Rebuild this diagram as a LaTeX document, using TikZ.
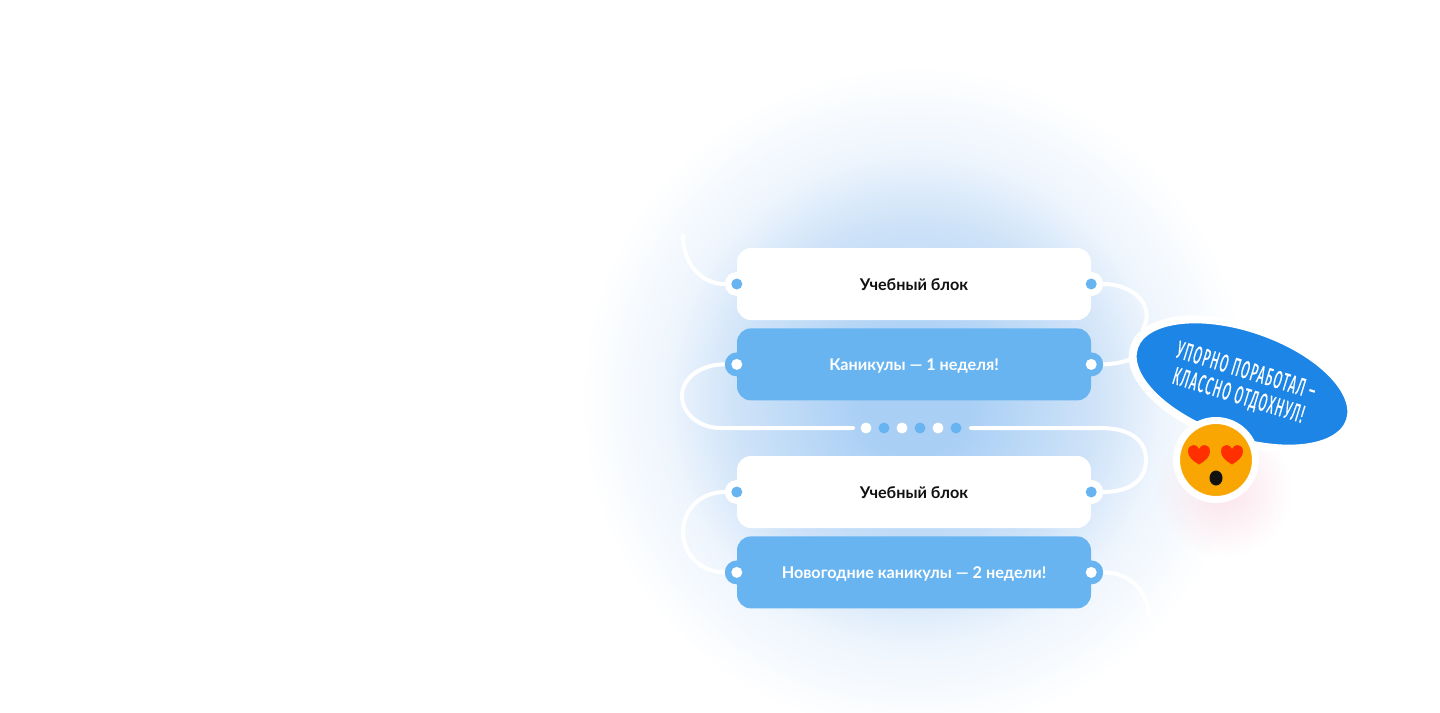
\documentclass[tikz,border=0pt]{standalone}
\usepackage{fontspec}
\setmainfont{Lato}
\newfontfamily\bubblefont[FakeStretch=0.48,LetterSpace=5.5,FakeBold=0.5]{Fira Sans}
\usetikzlibrary{positioning, shapes.geometric, backgrounds, fadings}
\definecolor{skyblue}{HTML}{68B4F0}
\definecolor{deepblue}{HTML}{1C85E5}
\definecolor{inkblack}{HTML}{111111}
\definecolor{faceorange}{HTML}{F9A602}
\definecolor{heartred}{HTML}{FF2F00}
\definecolor{glowcore}{HTML}{A9CFF5}
\definecolor{glowmid}{HTML}{CFE3F8}
\definecolor{glowpale}{HTML}{EEF5FD}
\definecolor{glowpink}{HTML}{FBE4EB}
\pgfdeclareradialshading{blueglow}{\pgfpoint{0bp}{0bp}}{color(0bp)=(glowcore); color(4bp)=(glowcore); color(13.5bp)=(glowmid); color(18.5bp)=(glowpale); color(25bp)=(white); color(50bp)=(white)}
\tikzfading[name=softedge, inner color=transparent!0, outer color=transparent!100]

\begin{document}
\begin{tikzpicture}[
  x=1pt, y=-1pt,
  font=\fontsize{16.2}{19}\selectfont\bfseries,
  stage/.style={rounded corners=14pt, minimum width=354pt, minimum height=72pt, inner sep=0pt, text height=14pt, text depth=2pt},
  study/.style={stage, fill=white, text=inkblack},
  holiday/.style={stage, fill=skyblue, text=white},
  port/.style={circle, minimum size=24pt, inner sep=0pt, outer sep=0pt},
  pin/.style={circle, minimum size=11pt, inner sep=0pt},
  link/.style={draw=white, line width=4pt, line cap=round},
]
  \useasboundingbox (0,0) rectangle (1440,712);

  % Stages, top to bottom
  \node[study] (studyA) at (914,284) {Учебный блок};
  \node[holiday, below=8pt of studyA] (weekoff) {Каникулы — 1 неделя!};
  \node[study] (studyB) at (914,492) {Учебный блок};
  \node[holiday, below=8pt of studyB] (newyear) {Новогодние каникулы — 2 недели!};

  % Ports on both sides of each stage
  \foreach \stage/\portfill/\pinfill in {studyA/white/skyblue, weekoff/skyblue/white, studyB/white/skyblue, newyear/skyblue/white} {
    \node[port, fill=\portfill] (\stage L) at (\stage.west) {};
    \node[port, fill=\portfill] (\stage R) at (\stage.east) {};
    \node[pin, fill=\pinfill] (\stage Lpin) at (\stage.west) {};
    \node[pin, fill=\pinfill] (\stage Rpin) at (\stage.east) {};
  }

  % Row of dots between the two groups
  \foreach \i/\dotx/\dotfill in {1/866/white, 2/884/skyblue, 3/902/white, 4/920/skyblue, 5/938/white, 6/956/skyblue}
    \node[pin, fill=\dotfill] (dot\i) at (\dotx,428) {};
  \coordinate (gapL) at (853,428);
  \coordinate (gapR) at (971,428);
  \coordinate (inTop) at (683,236);
  \coordinate (outBottom) at (1149,618);

  % Speech bubble and face
  \node[ellipse, draw=white, line width=8pt, fill=deepblue, minimum width=228pt, minimum height=112pt, inner sep=0pt, rotate=-19] (bubble) at (1242,384) {};
  \node[rotate=-17, align=center, text=white, font=\fontsize{25}{26}\selectfont\bubblefont\mdseries] (slogan) at (1242,384) {УПОРНО ПОРАБОТАЛ –\\КЛАССНО ОТДОХНУЛ!};
  \node[circle, draw=white, line width=7pt, fill=faceorange, minimum size=79pt, inner sep=0pt] (face) at (1216,460) {};
  \node[ellipse, fill=inkblack, minimum width=13pt, minimum height=15pt, inner sep=0pt] (mouth) at (1216,478) {};
  \foreach \heartx in {1199,1232}
    \fill[heartred] (\heartx,464.5) .. controls (\heartx-6,461) and (\heartx-11,457) .. (\heartx-11,451.5)
      .. controls (\heartx-11,447) and (\heartx-8,445) .. (\heartx-5.5,445)
      .. controls (\heartx-3,445) and (\heartx-1,446.5) .. (\heartx,449)
      .. controls (\heartx+1,446.5) and (\heartx+3,445) .. (\heartx+5.5,445)
      .. controls (\heartx+8,445) and (\heartx+11,447) .. (\heartx+11,451.5)
      .. controls (\heartx+11,457) and (\heartx+6,461) .. (\heartx,464.5) -- cycle;

  \begin{scope}[on background layer]
    \shade[shading=blueglow] (915,400) circle[radius=335];
    \fill[glowpink, path fading=softedge] (1225,490) circle[radius=68];

    \draw[link] (inTop) .. controls (683,262) and (700,284) .. (studyAL.west);
    \draw[link] (studyAR.east) .. controls (1133,284) and (1156,305) .. (bubble.170);
    \draw[link] (weekoffR.east) .. controls (1115,364) and (1122,362) .. (bubble.187);
    \draw[link] (weekoffL.west) .. controls (704,364) and (682,376) .. (682,396)
      .. controls (682,414) and (700,428) .. (720,428) -- (gapL);
    \draw[link] (gapR) -- (1100,428) .. controls (1130,428) and (1146,440) .. (1146,460)
      .. controls (1146,480) and (1130,492) .. (studyBR.east);
    \draw[link] (studyBL.west) .. controls (700,492) and (683,510) .. (683,532)
      .. controls (683,554) and (700,572) .. (newyearL.west);
    \draw[link] (newyearR.east) .. controls (1130,572) and (1149,592) .. (outBottom);
  \end{scope}
\end{tikzpicture}
\end{document}
